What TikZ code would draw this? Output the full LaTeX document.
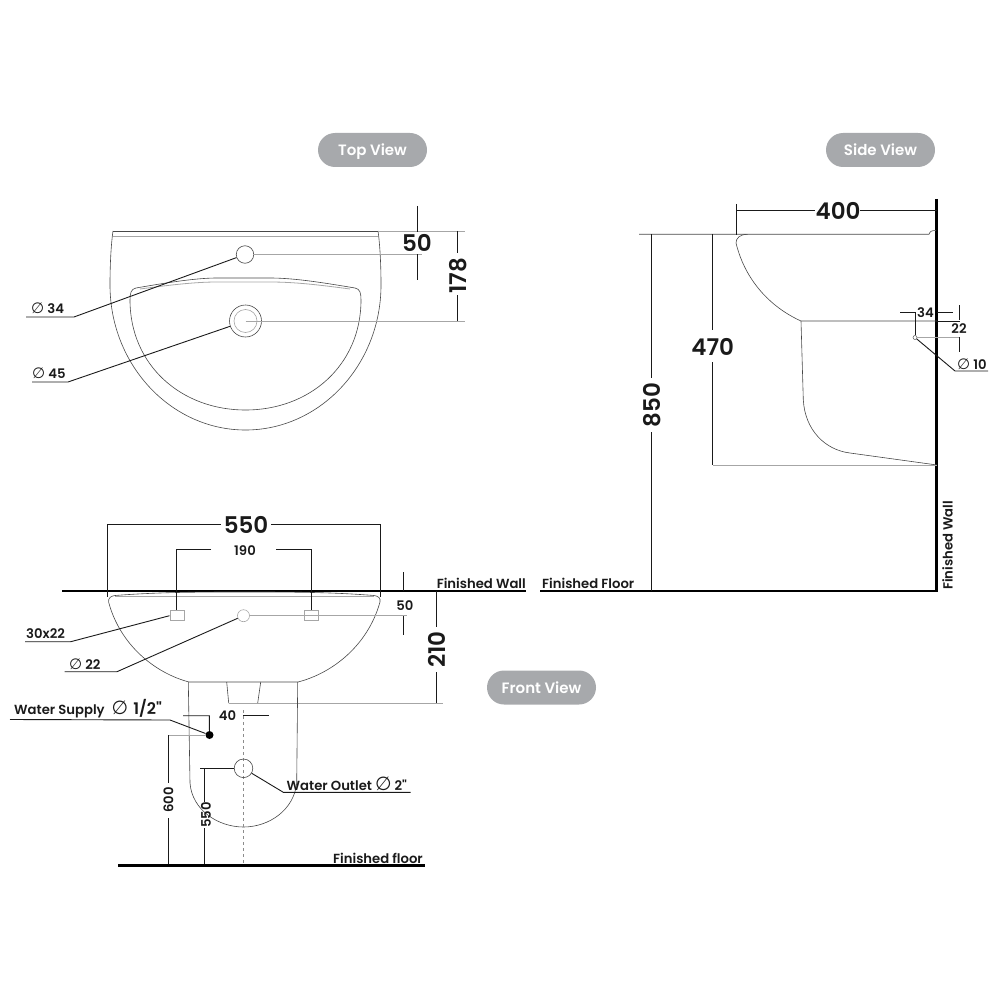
\documentclass[tikz,border=0pt]{standalone}
\usepackage{fontspec}
\setmainfont{Poppins SemiBold}
\newfontfamily\symfont{DejaVu Sans}
\newfontfamily\quotefont{Poppins SemiBold}
\usepackage{tikz}
\usetikzlibrary{positioning}
\newcommand{\Dia}{{\symfont\fontsize{15}{15}\selectfont\char"2205}}
\newcommand{\DiaBig}{{\symfont\fontsize{19}{19}\selectfont\char"2205}}
\definecolor{pillgray}{HTML}{A7A9AC}
\definecolor{inkblack}{HTML}{1A1A1A}
\tikzset{
  outline/.style={draw=inkblack!80,line width=0.6pt},
  faint/.style={draw=black!35,line width=0.8pt},
  dimline/.style={draw=inkblack,line width=0.9pt},
  leaderline/.style={draw=inkblack,line width=0.9pt},
  thickline/.style={draw=black,line width=2.6pt},
  bigdim/.style={font=\fontsize{23}{24}\selectfont,text=inkblack,inner sep=0pt},
  smalldim/.style={font=\fontsize{13.2}{14}\selectfont,text=inkblack,inner sep=0pt},
  callout/.style={font=\fontsize{13.2}{14}\selectfont,text=inkblack,inner sep=0pt},
  viewpill/.style={rounded corners=17pt,fill=pillgray,text=white,minimum width=109pt,minimum height=34pt,inner sep=0pt,text height=12pt,text depth=0pt,font=\fontsize{15}{15}\selectfont},
  hole/.style={circle,draw=inkblack!80,line width=0.6pt,inner sep=0pt}
}
\begin{document}
\begin{tikzpicture}[x=1pt,y=-1pt]
    \useasboundingbox (0,0) rectangle (1000,1000);

    % View titles
    \node[viewpill] (topview) at (372.5,150) {Top View};
    \node[viewpill] (sideview) at (880.5,150) {Side View};
    \node[viewpill] (frontview) at (541.5,687.5) {Front View};

    % Top view
    \draw[outline] (113,231) -- (378,231);
    \draw[faint] (113,236) -- (378,236);
    \draw[outline] (113,231) .. controls (111,245) and (110,265) .. (110,285)
        .. controls (110,365) and (171,430) .. (245.5,430)
        .. controls (320,430) and (381,365) .. (381,285)
        .. controls (381,265) and (380,245) .. (378,231);
    \draw[outline] (130,300) .. controls (130,293) and (131,289) .. (136,288)
        .. controls (165,283) and (195,278) .. (217,278) -- (270,278)
        .. controls (295,278) and (325,283) .. (355,288)
        .. controls (360,289) and (361,293) .. (361,300)
        .. controls (361,365) and (310,410) .. (245.5,410)
        .. controls (181,410) and (130,365) .. (130,300);
    \draw[faint] (140,289) .. controls (170,285) and (195,282) .. (217,282) -- (270,282)
        .. controls (295,282) and (320,285) .. (350,289);
    \node[hole,minimum size=17.5pt] (taphole) at (245,254.5) {};
    \node[hole,minimum size=32pt] (waste) at (245.5,321) {};
    \node[circle,draw=black!35,line width=0.6pt,inner sep=0pt,minimum size=23pt] (wastein) at (245.5,321) {};

    \draw[faint] (378,231) -- (465,231);
    \draw[faint] (253,254.5) -- (422,254.5);
    \draw[faint] (245.5,321) -- (465,321);
    \draw[dimline] (417,206) -- (417,232);
    \draw[dimline] (417,254) -- (417,280);
    \draw[dimline] (457.5,231) -- (457.5,253);
    \draw[dimline] (457.5,295) -- (457.5,321);
    \node[bigdim] (topfifty) at (417,243) {50};
    \node[bigdim,rotate=90] (topdepth) at (458,276) {178};

    \node[callout,anchor=west] (taplabel) at (31,308) {\Dia{} 34};
    \draw[leaderline] (26,317) -- (74,317) -- (taphole);
    \node[callout,anchor=west] (wastelabel) at (32,373) {\Dia{} 45};
    \draw[leaderline] (32,382) -- (68,382) -- (waste);

    % Front view
    \draw[thickline] (62,591) -- (526,591);
    \node[callout,anchor=south east] (wallfront) at (526,589) {Finished Wall};
    \draw[outline] (108.6,602) .. controls (108,598) and (111,596) .. (115,595.5)
        .. controls (160,592) and (200,592) .. (244,592) .. controls (290,592) and (330,592) .. (374,595.5)
        .. controls (378,596) and (381,598) .. (380,602)
        .. controls (368,645) and (333,673) .. (298,682) -- (189,682)
        .. controls (155,673) and (120,645) .. (108.6,602);
    \draw[faint] (115,596.5) -- (374,596.5);
    \draw[dimline] (107.5,524) -- (107.5,597);
    \draw[dimline] (380,524) -- (380,597);
    \draw[dimline] (107.5,524) -- (221,524);
    \draw[dimline] (271,524) -- (380,524);
    \node[bigdim] (frontwidth) at (246,525) {550};
    \draw[dimline] (211,549.5) -- (176.5,549.5) -- (176.5,611);
    \draw[dimline] (276,549.5) -- (311,549.5) -- (311,611);
    \node[smalldim] (bracket) at (245,550.5) {190};
    \node[rectangle,draw=black!35,line width=0.6pt,minimum width=14pt,minimum height=10pt,inner sep=0pt] (slotl) at (176.8,615.7) {};
    \node[rectangle,draw=black!35,line width=0.6pt,minimum width=14pt,minimum height=10pt,inner sep=0pt] (slotr) at (310.9,615.7) {};
    \node[circle,draw=black!35,line width=0.6pt,minimum size=12pt,inner sep=0pt] (frontdrill) at (243.5,615.7) {};
    \draw[faint] (frontdrill) -- (407,615.7);
    \draw[dimline] (403.5,572) -- (403.5,591);
    \draw[dimline] (403.5,616) -- (403.5,635);
    \node[smalldim] (frontfifty) at (405,606) {50};
    \draw[dimline] (436,591) -- (436,627);
    \draw[dimline] (436,672) -- (436,703);
    \node[bigdim,rotate=90] (frontdrop) at (437,649.5) {210};
    \draw[faint] (228.5,703) -- (443,703);
    \draw[outline] (226.7,682) -- (228.7,703);
    \draw[outline] (260.7,682) -- (257.7,703);

    \node[callout,anchor=west] (slotlabel) at (26,634) {30x22};
    \draw[leaderline] (25,641.7) -- (70.7,641.7) -- (slotl.west);
    \node[callout,anchor=west] (drilllabel) at (69,664) {\Dia{} 22};
    \draw[leaderline] (64.5,671.7) -- (117,671.7) -- (frontdrill);

    % Pedestal
    \draw[outline] (188.3,682) -- (190,783) .. controls (192,810) and (218,827) .. (243.5,827)
        .. controls (269,827) and (294,810) .. (296.7,783) -- (297.7,682);
    \draw[draw=black!45,line width=0.6pt,dashed] (243.5,710) -- (243.5,865);
    \node[circle,fill=black,inner sep=0pt,minimum size=8pt] (supply) at (209.5,735) {};
    \node[hole,minimum size=18.6pt] (outlet) at (243.5,768.3) {};
    \draw[dimline] (183,715.7) -- (209.3,715.7) -- (supply);
    \draw[dimline] (243.3,715.7) -- (269.3,715.7);
    \node[smalldim] (supplyoff) at (227.5,716) {40};

    \node[callout,anchor=west] (supplylabel) at (14,708.5) {Water Supply\hspace{7pt}\DiaBig\hspace{5pt}{\fontsize{16}{16}\selectfont 1/2{\quotefont"}}};
    \draw[leaderline] (10,719.5) -- (170,720) -- (supply);
    \node[callout,anchor=west] (outletlabel) at (286.5,784) {Water Outlet\hspace{3pt}\DiaBig\hspace{3pt}2{\quotefont"}};
    \draw[leaderline] (410.7,792.3) -- (283.3,792.3) -- (outlet);

    \draw[faint] (168.3,735) -- (supply);
    \draw[dimline] (168.3,735) -- (168.3,783);
    \draw[dimline] (168.3,818) -- (168.3,865);
    \node[smalldim,rotate=90] (supplyht) at (168.5,800) {600};
    \draw[dimline] (200,768.3) -- (outlet);
    \draw[dimline] (204.7,768.3) -- (204.7,802);
    \draw[dimline] (204.7,828) -- (204.7,865);
    \node[smalldim,rotate=90] (outletht) at (206,815) {550};

    \draw[thickline] (118,865.5) -- (425,865.5);
    \node[callout,anchor=south east] (floorfront) at (423,863.5) {Finished floor};

    % Side view
    \draw[thickline] (936.7,199) -- (936.7,592);
    \draw[thickline] (540,591) -- (938,591);
    \node[callout,anchor=south west] (floorside) at (542,589) {Finished Floor};
    \node[callout,rotate=90,anchor=north west] (wallside) at (942,590) {Finished Wall};

    \draw[outline] (639,234.3) -- (929,234.3) .. controls (930,231) and (932,230.5) .. (936,230.5);
    \draw[outline] (747.7,234.3) .. controls (740,234.3) and (736,238) .. (736,243)
        .. controls (745,280) and (770,307) .. (801,321) -- (937,321);
    \draw[outline] (801,321) -- (803.3,400) .. controls (805,430) and (825,450) .. (850,453) -- (937,465);
    \draw[faint] (713,465) -- (937,465);

    \draw[dimline] (736,204) -- (736,235);
    \draw[dimline] (736,210) -- (815,210);
    \draw[dimline] (860,210) -- (937,210);
    \node[bigdim] (sidedepth) at (838,210.5) {400};
    \draw[dimline] (651.7,234.3) -- (651.7,378);
    \draw[dimline] (651.7,432) -- (651.7,591);
    \node[bigdim,rotate=90] (sidetotal) at (652,405) {850};
    \draw[dimline] (712.7,234.3) -- (712.7,330);
    \draw[dimline] (712.7,362) -- (712.7,465);
    \node[bigdim] (sideheight) at (712.7,347) {470};

    \node[circle,draw=black!60,line width=0.6pt,minimum size=4pt,inner sep=0pt] (fixing) at (915,337.5) {};
    \draw[dimline] (900,312.7) -- (915,312.7) -- (fixing);
    \draw[dimline] (937,312.7) -- (953,312.7);
    \node[smalldim] (fixingx) at (925.5,313) {34};
    \draw[dimline] (937,321) -- (960,321);
    \draw[faint] (fixing) -- (960,337.5);
    \draw[dimline] (959,305) -- (959,320);
    \draw[dimline] (959,337) -- (959,352);
    \node[smalldim] (fixingy) at (959,328.5) {22};
    \node[callout,anchor=west] (fixinglabel) at (957,364.5) {\Dia{} 10};
    \draw[leaderline] (988,371) -- (955,371) -- (fixing);
\end{tikzpicture}
\end{document}
